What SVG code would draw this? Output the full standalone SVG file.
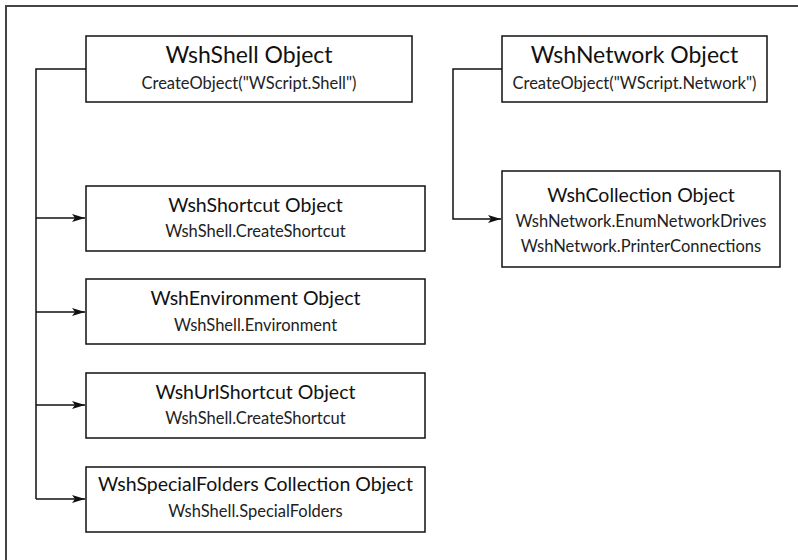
<svg xmlns="http://www.w3.org/2000/svg" width="798" height="560" viewBox="0 0 798 560">
<style>
.box{fill:#fff;stroke:#111;stroke-width:1.5}
.t{font-family:Lato,"Liberation Sans",sans-serif;fill:#111;text-anchor:middle}
.h1{font-size:23px}
.h2{font-size:19.5px}
.s{font-size:16.5px;fill:#222}
.c{fill:none;stroke:#111;stroke-width:1.5}
.frame{fill:none;stroke:#444;stroke-width:2}
</style>
<defs>
<marker id="ah" markerWidth="13" markerHeight="9" refX="13" refY="4.5" orient="auto" markerUnits="userSpaceOnUse">
<path d="M0,0.5 L13,4.5 L0,8.5 L3,4.5 Z" fill="#111"/>
</marker>
</defs>
<rect width="798" height="560" fill="#fff"/>
<path class="frame" d="M6,560 V6 H798"/>
<g id="connectors">
<path class="c" d="M86,69 H36 V499"/>
<path class="c" d="M36,218 H85" marker-end="url(#ah)"/>
<path class="c" d="M36,312 H85" marker-end="url(#ah)"/>
<path class="c" d="M36,405 H85" marker-end="url(#ah)"/>
<path class="c" d="M36,499 H85" marker-end="url(#ah)"/>
<path class="c" d="M502,69 H453 V219 H501" marker-end="url(#ah)"/>
</g>
<g id="wshshell">
<rect class="box" x="86" y="36" width="326" height="66"/>
<text class="t h1" x="249" y="63">WshShell Object</text>
<text class="t s" x="249" y="89">CreateObject("WScript.Shell")</text>
</g>
<g id="wshnetwork">
<rect class="box" x="502" y="36" width="265" height="66"/>
<text class="t h1" x="634.5" y="63">WshNetwork Object</text>
<text class="t s" x="634.5" y="89">CreateObject("WScript.Network")</text>
</g>
<g id="wshcollection">
<rect class="box" x="502" y="171" width="278" height="96"/>
<text class="t h2" x="641" y="202">WshCollection Object</text>
<text class="t s" x="641" y="227">WshNetwork.EnumNetworkDrives</text>
<text class="t s" x="641" y="252">WshNetwork.PrinterConnections</text>
</g>
<g id="wshshortcut">
<rect class="box" x="86" y="186" width="339" height="65"/>
<text class="t h2" x="255.5" y="212">WshShortcut Object</text>
<text class="t s" x="255.5" y="237">WshShell.CreateShortcut</text>
</g>
<g id="wshenvironment">
<rect class="box" x="86" y="279" width="339" height="65"/>
<text class="t h2" x="255.5" y="305">WshEnvironment Object</text>
<text class="t s" x="255.5" y="331">WshShell.Environment</text>
</g>
<g id="wshurlshortcut">
<rect class="box" x="86" y="373" width="339" height="65"/>
<text class="t h2" x="255.5" y="399">WshUrlShortcut Object</text>
<text class="t s" x="255.5" y="424">WshShell.CreateShortcut</text>
</g>
<g id="wshspecialfolders">
<rect class="box" x="86" y="467" width="339" height="65"/>
<text class="t h2" x="255.5" y="491">WshSpecialFolders Collection Object</text>
<text class="t s" x="255.5" y="517">WshShell.SpecialFolders</text>
</g>
</svg>
